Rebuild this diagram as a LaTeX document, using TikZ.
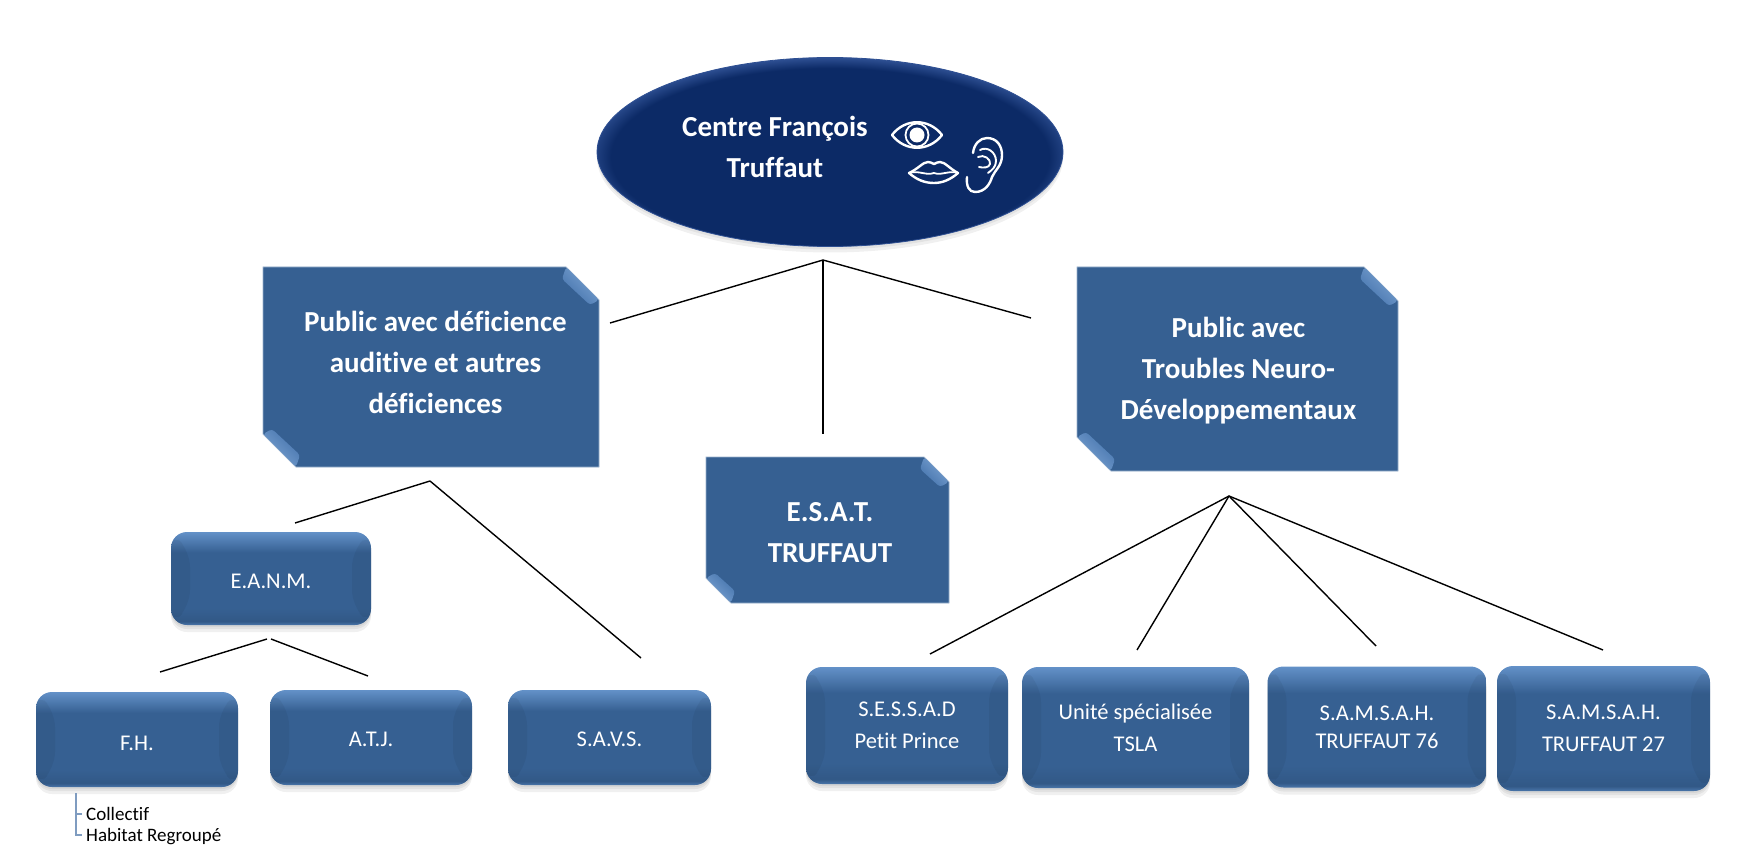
\documentclass[tikz,border=0pt]{standalone}
\usepackage{fontspec}
\setmainfont{Carlito}[Ligatures=NoCommon]
\usetikzlibrary{shapes.geometric,shadows,calc}
\definecolor{boxblue}{HTML}{366092}
\definecolor{boxlight}{HTML}{6391C8}
\definecolor{curllight}{HTML}{7EA5D4}
\definecolor{curldark}{HTML}{4372AB}
\definecolor{navy}{HTML}{0C2A66}
\definecolor{navylight}{HTML}{4468B0}
\definecolor{listblue}{HTML}{7F9CC0}
\pgfdeclareverticalshading{roundbevel}{100bp}{color(0bp)=(boxblue); color(25bp)=(boxlight!45!boxblue); color(27bp)=(boxblue!92!black); color(34bp)=(boxblue); color(64bp)=(boxblue); color(75bp)=(boxlight); color(100bp)=(boxlight)}
\pgfdeclareradialshading{navybevel}{\pgfpoint{0bp}{-2.5bp}}{color(0bp)=(navy); color(23.5bp)=(navy); color(28bp)=(navylight); color(50bp)=(navylight)}
\begin{document}
\begin{tikzpicture}[x=1pt,y=-1pt,
    link/.style={black,line width=1.4pt},
    icon/.style={white,line width=2.4pt,line join=round,line cap=round},
    softshadow/.style={drop shadow={shadow xshift=0pt,shadow yshift=-#1pt,opacity=.12}},
    boldtext/.style={text=white,align=center,font=\bfseries\fontsize{29}{41}\selectfont},
    notefill/.style={fill=boxblue,draw=listblue!80,line width=.8pt},
    curl/.style={rounded corners=3pt,left color=curldark,right color=curllight,shading angle=#1},
    roundbox/.style args={#1x#2}{rectangle,rounded corners=16pt,minimum width=#1pt,minimum height=#2pt,inner sep=0pt,
        shading=roundbevel,text=white,align=center,font=\fontsize{22.5}{32}\selectfont,
        softshadow=7,softshadow=4,softshadow=2,
        path picture={
            \fill[black,opacity=.05] (path picture bounding box.north west) -- ++(19,19) -- ($(path picture bounding box.south west)+(19,-19)$) -- (path picture bounding box.south west) -- cycle;
            \fill[black,opacity=.05] (path picture bounding box.north east) -- ++(-19,19) -- ($(path picture bounding box.south east)+(-19,-19)$) -- (path picture bounding box.south east) -- cycle;
        }}]
    \useasboundingbox (0,0) rectangle (1755,866);

    % Top of the chart
    \node[ellipse,minimum width=466pt,minimum height=189pt,inner sep=0pt,shading=navybevel,
        softshadow=6,softshadow=3,draw=navylight!60!navy,line width=.8pt] (centre) at (830,152) {};
    \node[boldtext] (centrelabel) at (775,147) {Centre François\\Truffaut};

    % Eye, mouth, ear
    \draw[icon] (892,135) .. controls (905,118) and (929,118) .. (942,135) .. controls (929,152) and (905,152) .. (892,135) -- cycle;
    \draw[icon,line width=1.8pt] (917,135) circle (11.5);
    \fill[white] (917,135) circle (7.5);
    \draw[icon] (909,173) .. controls (918,169) and (923,162) .. (928,162) .. controls (930,162) and (932,163) .. (934,164) .. controls (936,163) and (938,162) .. (940,162) .. controls (945,162) and (950,169) .. (958,173) .. controls (950,180) and (942,183) .. (934,183) .. controls (925,183) and (917,180) .. (909,173) -- cycle;
    \draw[icon,line width=1.8pt] (909,173) .. controls (920,170) and (925,176) .. (934,173) .. controls (942,176) and (948,170) .. (958,173);
    \draw[icon] (973,153) .. controls (974,144) and (980,138) .. (987,138) .. controls (997,138) and (1002,146) .. (1002,155) .. controls (1002,166) and (995,170) .. (992,177) .. controls (990,184) and (985,192) .. (975,192) .. controls (969,192) and (966,186) .. (967,177);
    \draw[icon,line width=1.9pt] (980,150) .. controls (987,146) and (996,152) .. (996,161) .. controls (996,167) and (992,170) .. (988,173);
    \draw[icon,line width=1.9pt] (978,157) .. controls (984,154) and (991,159) .. (990,164) .. controls (989,168) and (983,168) .. (979,167);

    % Notes
    \foreach \cx/\cy/\hw/\hh/\cut in {431/367/168/100/33,827.5/530/121.5/73/25,1237.5/369/160.5/102/34} {
        \begin{scope}[shift={(\cx,\cy)}]
            \filldraw[notefill] (-\hw,-\hh) -- (\hw-\cut,-\hh) -- (\hw,-\hh+\cut) -- (\hw,\hh) -- (-\hw+\cut,\hh) -- (-\hw,\hh-\cut) -- cycle;
            \shade[curl=135] (\hw-\cut,-\hh) -- (\hw,-\hh+\cut) -- (\hw-9,-\hh+\cut+5) -- (\hw-\cut-4,-\hh+12) -- cycle;
            \shade[curl=315] (-\hw+\cut,\hh) -- (-\hw,\hh-\cut) -- (-\hw+9,\hh-\cut-5) -- (-\hw+\cut+4,\hh-12) -- cycle;
        \end{scope}
    }
    \node[boldtext] (auditive) at (435.5,362.5) {Public avec déficience\\auditive et autres\\déficiences};
    \node[boldtext] (esat) at (830,533) {E.S.A.T.\\TRUFFAUT};
    \node[boldtext] (tnd) at (1238.5,370.5) {Public avec\\Troubles Neuro-\\Développementaux};

    % Boxes
    \node[roundbox=200x93,text height=21pt] (eanm) at (271,578.5) {E.A.N.M.};
    \node[roundbox=202x95,text height=22pt] (fh) at (137,739.5) {F.H.};
    \node[roundbox=202x95,text height=18pt] (atj) at (371,737.5) {A.T.J.};
    \node[roundbox=203x95,text height=18pt] (savs) at (609.5,737.5) {S.A.V.S.};
    \node[roundbox=202x117] (sessad) at (907,725.5) {S.E.S.S.A.D\\Petit Prince};
    \node[roundbox=227x121] (tsla) at (1135.5,727.5) {Unité spécialisée\\TSLA};
    \node[roundbox=219x121,font=\fontsize{22.5}{28}\selectfont] (samsah76) at (1377,727) {S.A.M.S.A.H.\\TRUFFAUT 76};
    \node[roundbox=213x125] (samsah27) at (1603.5,728.5) {S.A.M.S.A.H.\\TRUFFAUT 27};

    % Ends of the lines
    \coordinate (tophub) at (823,260);
    \coordinate (topleft) at (610,323);
    \coordinate (topmid) at (823,434);
    \coordinate (topright) at (1031,318);
    \coordinate (audhub) at (430,481);
    \coordinate (audeanm) at (295,523);
    \coordinate (audsavs) at (641,658);
    \coordinate (eanmhub) at (267,639);
    \coordinate (eanmhubr) at (271,639);
    \coordinate (eanmfh) at (160,672);
    \coordinate (eanmatj) at (368,676);
    \coordinate (tndhub) at (1229,496);
    \coordinate (tndsessad) at (930,654);
    \coordinate (tndtsla) at (1137,650);
    \coordinate (tnd76) at (1376,646);
    \coordinate (tnd27) at (1603,650);

    \draw[link] (tophub) -- (topleft);
    \draw[link] (tophub) -- (topmid);
    \draw[link] (tophub) -- (topright);
    \draw[link] (audhub) -- (audeanm);
    \draw[link] (audhub) -- (audsavs);
    \draw[link] (eanmhub) -- (eanmfh);
    \draw[link] (eanmhubr) -- (eanmatj);
    \draw[link] (tndhub) -- (tndsessad);
    \draw[link] (tndhub) -- (tndtsla);
    \draw[link] (tndhub) -- (tnd76);
    \draw[link] (tndhub) -- (tnd27);

    % List under F.H.
    \draw[listblue,line width=1.2pt] (76,793) -- (76,835) -- (82,835) (76,814) -- (82,814);
    \node[anchor=west,inner sep=0pt,font=\fontsize{19}{23}\selectfont] (collectif) at (86,814) {Collectif};
    \node[anchor=west,inner sep=0pt,font=\fontsize{19}{23}\selectfont] (habitat) at (86,837) {Habitat Regroupé};
\end{tikzpicture}
\end{document}
